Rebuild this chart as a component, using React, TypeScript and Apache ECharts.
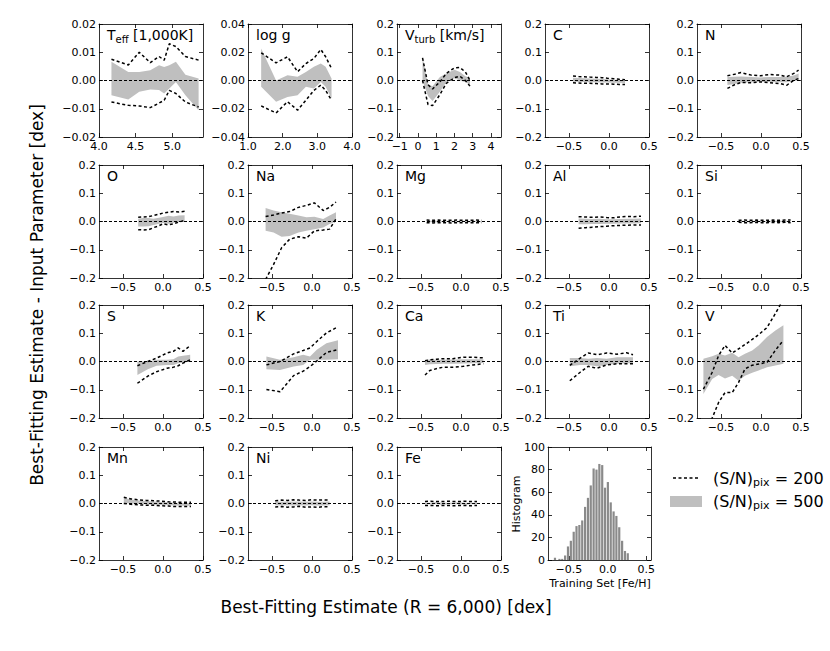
import React, { useEffect, useRef } from 'react';
import * as echarts from 'echarts';

const FONT = 'DejaVu Sans';

// ---------------- tick values ----------------
const teffXTicks = [4.0, 4.5, 5.0];
const loggXTicks = [1, 2, 3, 4];
const vturbXTicks = [-1, 0, 1, 2, 3, 4];
const abundXTicks = [-0.5, 0, 0.5];
const teffYTicks = [-0.02, -0.01, 0, 0.01, 0.02];
const loggYTicks = [-0.04, -0.02, 0, 0.02, 0.04];
const abundYTicks = [-0.2, -0.1, 0, 0.1, 0.2];
const histXTicks = [-0.5, 0, 0.5];
const histYTicks = [0, 20, 40, 60, 80, 100];

// ---------------- panel data ----------------
// hi200/lo200: dashed envelope (S/N=200); hi500/lo500: grey band (S/N=500)
const teffX = [4.17, 4.40, 4.55, 4.70, 4.82, 4.89, 4.96, 5.05, 5.18, 5.36];
const teffHi200 = [0.0075, 0.0055, 0.0100, 0.0063, 0.0085, 0.0072, 0.0130, 0.0120, 0.0085, 0.0072];
const teffLo200 = [-0.0076, -0.0088, -0.0090, -0.0096, -0.0080, -0.0070, -0.0035, -0.0046, -0.0076, -0.0094];
const teffHi500 = [0.0066, 0.0030, 0.0030, 0.0036, 0.0054, 0.0048, 0.0054, 0.0066, 0.0020, 0.0007];
const teffLo500 = [-0.0052, -0.0067, -0.0040, -0.0032, -0.0034, -0.0046, -0.0028, -0.0005, -0.0052, -0.0105];

const loggX = [1.38, 1.81, 2.14, 2.43, 2.67, 2.90, 3.10, 3.24, 3.41];
const loggHi200 = [0.0196, 0.0125, 0.0168, 0.0062, 0.0120, 0.0156, 0.0220, 0.0168, 0.0085];
const loggLo200 = [-0.0180, -0.0230, -0.0150, -0.0210, -0.0140, -0.0070, -0.0033, -0.0070, -0.0140];
const loggHi500 = [0.0227, 0.0000, 0.0038, 0.0026, 0.0060, 0.0097, 0.0120, 0.0097, 0.0014];
const loggLo500 = [-0.0045, -0.0150, -0.0116, -0.0104, -0.0045, -0.0057, -0.0010, -0.0045, -0.0128];

const vtX = [0.25, 0.55, 0.8, 1.2, 1.55, 2.0, 2.3, 2.6, 2.85];
const vtHi200 = [0.080, -0.015, -0.030, -0.005, 0.025, 0.045, 0.046, 0.030, 0.000];
const vtLo200 = [0.000, -0.085, -0.089, -0.050, -0.010, 0.010, 0.015, 0.000, -0.020];
const vtHi500 = [0.085, -0.014, -0.020, 0.012, 0.025, 0.038, 0.030, 0.015, 0.010];
const vtLo500 = [0.000, -0.055, -0.073, -0.040, -0.005, 0.008, 0.000, -0.006, -0.014];

const cX = [-0.45, -0.38, -0.31, -0.24, -0.16, -0.09, -0.02, 0.06, 0.13, 0.20];
const cHi200 = [0.016, 0.014, 0.013, 0.012, 0.011, 0.010, 0.008, 0.006, 0.004, 0.003];
const cLo200 = [-0.008, -0.009, -0.010, -0.010, -0.011, -0.012, -0.012, -0.013, -0.014, -0.014];
const cHi500 = [0.010, 0.009, 0.008, 0.007, 0.006, 0.005, 0.004, 0.003, 0.002, 0.001];
const cLo500 = [-0.004, -0.005, -0.005, -0.006, -0.006, -0.007, -0.007, -0.008, -0.008, -0.009];

const nX = [-0.42, -0.33, -0.25, -0.12, -0.01, 0.11, 0.24, 0.32, 0.41, 0.47];
const nHi200 = [0.017, 0.022, 0.028, 0.019, 0.017, 0.021, 0.019, 0.013, 0.025, 0.037];
const nLo200 = [-0.028, -0.015, -0.007, -0.008, -0.005, -0.008, -0.011, -0.017, 0.001, 0.007];
const nHi500 = [0.012, 0.013, 0.014, 0.012, 0.011, 0.012, 0.012, 0.013, 0.018, 0.025];
const nLo500 = [-0.016, -0.012, -0.008, -0.006, -0.005, -0.005, -0.006, -0.006, -0.002, 0.001];

const oX = [-0.31, -0.25, -0.18, -0.12, -0.05, 0.0, 0.07, 0.13, 0.20, 0.27];
const oHi200 = [0.015, 0.016, 0.017, 0.021, 0.026, 0.030, 0.033, 0.035, 0.034, 0.036];
const oLo200 = [-0.029, -0.030, -0.029, -0.022, -0.015, -0.008, -0.012, -0.008, -0.002, 0.004];
const oHi500 = [0.010, 0.012, 0.012, 0.010, 0.013, 0.016, 0.020, 0.018, 0.021, 0.022];
const oLo500 = [-0.018, -0.018, -0.017, -0.012, -0.008, -0.005, -0.008, -0.004, -0.002, 0.000];

const naX = [-0.58, -0.48, -0.38, -0.28, -0.17, -0.07, 0.03, 0.14, 0.22, 0.30];
const naHi200 = [0.018, 0.023, 0.030, 0.035, 0.050, 0.057, 0.066, 0.039, 0.050, 0.069];
const naLo200 = [-0.205, -0.152, -0.093, -0.063, -0.054, -0.059, -0.033, -0.030, -0.027, 0.009];
const naHi500 = [0.048, 0.039, 0.033, 0.027, 0.021, 0.015, 0.017, 0.009, 0.021, 0.033];
const naLo500 = [-0.033, -0.039, -0.054, -0.051, -0.039, -0.033, -0.027, -0.021, -0.009, 0.000];

const mgX = [-0.43, -0.35, -0.28, -0.20, -0.12, -0.05, 0.03, 0.11, 0.18, 0.26];
const mgHi200 = [0.005, 0.004, 0.005, 0.004, 0.004, 0.005, 0.004, 0.004, 0.005, 0.004];
const mgLo200 = [-0.004, -0.005, -0.004, -0.004, -0.005, -0.004, -0.004, -0.005, -0.004, -0.004];
const mgHi500 = [0.003, 0.003, 0.002, 0.003, 0.003, 0.002, 0.003, 0.002, 0.003, 0.002];
const mgLo500 = [-0.002, -0.003, -0.003, -0.002, -0.003, -0.003, -0.002, -0.003, -0.002, -0.003];

const alX = [-0.38, -0.29, -0.21, -0.12, -0.03, 0.05, 0.14, 0.23, 0.31, 0.40];
const alHi200 = [0.017, 0.016, 0.015, 0.016, 0.014, 0.013, 0.016, 0.018, 0.017, 0.019];
const alLo200 = [-0.024, -0.022, -0.020, -0.018, -0.017, -0.015, -0.014, -0.013, -0.012, -0.012];
const alHi500 = [0.011, 0.010, 0.009, 0.010, 0.008, 0.008, 0.009, 0.010, 0.010, 0.011];
const alLo500 = [-0.010, -0.010, -0.009, -0.009, -0.008, -0.008, -0.007, -0.007, -0.007, -0.006];

const siX = [-0.28, -0.21, -0.14, -0.06, 0.01, 0.08, 0.15, 0.22, 0.30, 0.37];
const siHi200 = [0.004, 0.005, 0.004, 0.005, 0.004, 0.004, 0.005, 0.004, 0.005, 0.005];
const siLo200 = [-0.003, -0.004, -0.004, -0.003, -0.004, -0.004, -0.003, -0.004, -0.003, -0.004];
const siHi500 = [0.002, 0.003, 0.002, 0.003, 0.002, 0.002, 0.003, 0.002, 0.003, 0.003];
const siLo500 = [-0.002, -0.002, -0.003, -0.002, -0.002, -0.003, -0.002, -0.002, -0.002, -0.003];

const sX = [-0.32, -0.19, -0.08, 0.05, 0.13, 0.19, 0.25, 0.34];
const sHi200 = [-0.015, 0.000, 0.012, 0.030, 0.036, 0.048, 0.036, 0.056];
const sLo200 = [-0.077, -0.052, -0.036, -0.024, -0.020, -0.015, -0.006, 0.006];
const sHi500 = [0.000, 0.000, 0.006, 0.006, 0.008, 0.018, 0.020, 0.024];
const sLo500 = [-0.048, -0.027, -0.015, -0.012, -0.012, -0.006, -0.004, 0.000];

const kX = [-0.57, -0.40, -0.23, -0.11, -0.025, 0.06, 0.18, 0.325];
const kHi200 = [-0.012, 0.000, 0.027, 0.039, 0.048, 0.071, 0.101, 0.123];
const kLo200 = [-0.099, -0.107, -0.050, -0.034, -0.018, 0.002, 0.032, 0.042];
const kHi500 = [0.018, 0.006, 0.015, 0.024, 0.018, 0.042, 0.065, 0.075];
const kLo500 = [-0.027, -0.030, -0.018, -0.012, 0.006, 0.006, 0.006, 0.008];

const caX = [-0.45, -0.39, -0.30, -0.22, -0.10, 0.03, 0.15, 0.28];
const caHi200 = [0.003, 0.006, 0.008, 0.010, 0.010, 0.015, 0.015, 0.013];
const caLo200 = [-0.048, -0.032, -0.025, -0.020, -0.020, -0.017, -0.012, -0.008];
const caHi500 = [0.005, 0.007, 0.006, 0.006, 0.007, 0.008, 0.008, 0.008];
const caLo500 = [-0.012, -0.010, -0.009, -0.008, -0.008, -0.007, -0.006, -0.005];

const tiX = [-0.49, -0.36, -0.26, -0.15, -0.03, 0.10, 0.22, 0.30];
const tiHi200 = [-0.014, 0.012, 0.030, 0.024, 0.030, 0.026, 0.031, 0.024];
const tiLo200 = [-0.068, -0.038, -0.017, -0.024, -0.012, -0.008, -0.008, -0.008];
const tiHi500 = [0.012, 0.012, 0.010, 0.012, 0.010, 0.015, 0.015, 0.015];
const tiLo500 = [-0.017, -0.012, -0.012, -0.017, -0.012, -0.008, -0.006, -0.005];

const vX = [-0.72, -0.61, -0.53, -0.45, -0.36, -0.28, -0.20, -0.11, -0.03, 0.075, 0.18, 0.28];
const vHi200 = [-0.098, -0.038, 0.021, 0.057, 0.030, 0.045, 0.060, 0.078, 0.095, 0.120, 0.170, 0.220];
const vLo200 = [-0.300, -0.200, -0.145, -0.110, -0.110, -0.074, -0.026, -0.013, -0.009, -0.003, 0.040, 0.075];
const vHi500 = [0.010, 0.019, 0.027, 0.021, 0.031, 0.015, 0.027, 0.039, 0.057, 0.087, 0.110, 0.128];
const vLo500 = [-0.115, -0.062, -0.048, -0.060, -0.050, -0.068, -0.050, -0.040, -0.032, -0.020, -0.014, -0.008];

const mnX = [-0.49, -0.40, -0.30, -0.21, -0.12, -0.02, 0.07, 0.16, 0.26, 0.35];
const mnHi200 = [0.022, 0.016, 0.013, 0.011, 0.010, 0.008, 0.006, 0.005, 0.004, 0.004];
const mnLo200 = [0.000, -0.003, -0.005, -0.006, -0.006, -0.008, -0.009, -0.011, -0.011, -0.011];
const mnHi500 = [0.020, 0.014, 0.011, 0.009, 0.007, 0.005, 0.004, 0.003, 0.002, 0.002];
const mnLo500 = [0.002, 0.000, -0.002, -0.003, -0.004, -0.005, -0.006, -0.007, -0.008, -0.008];

const niX = [-0.46, -0.38, -0.31, -0.23, -0.16, -0.08, -0.01, 0.07, 0.14, 0.22];
const niHi200 = [0.010, 0.012, 0.011, 0.013, 0.012, 0.011, 0.013, 0.012, 0.013, 0.012];
const niLo200 = [-0.012, -0.011, -0.013, -0.012, -0.010, -0.013, -0.012, -0.014, -0.011, -0.012];
const niHi500 = [0.007, 0.006, 0.007, 0.006, 0.007, 0.006, 0.007, 0.006, 0.006, 0.007];
const niLo500 = [-0.006, -0.007, -0.006, -0.007, -0.006, -0.007, -0.006, -0.007, -0.007, -0.006];

const feX = [-0.45, -0.38, -0.31, -0.23, -0.16, -0.09, -0.02, 0.06, 0.13, 0.20];
const feHi200 = [0.007, 0.008, 0.007, 0.007, 0.008, 0.007, 0.007, 0.008, 0.007, 0.007];
const feLo200 = [-0.007, -0.007, -0.008, -0.007, -0.007, -0.008, -0.007, -0.007, -0.008, -0.007];
const feHi500 = [0.003, 0.003, 0.004, 0.003, 0.003, 0.003, 0.004, 0.003, 0.003, 0.003];
const feLo500 = [-0.003, -0.003, -0.003, -0.004, -0.003, -0.003, -0.003, -0.004, -0.003, -0.003];

// histogram of training set [Fe/H]
const histX = [-0.680, -0.622, -0.586, -0.549, -0.512, -0.475, -0.438, -0.402, -0.365, -0.328, -0.291, -0.254, -0.218,
  -0.181, -0.144, -0.107, -0.070, -0.034, 0.003, 0.040, 0.077, 0.113, 0.150, 0.187, 0.224, 0.260];
const histY = [2, 1, 1, 4, 12, 17, 25, 30, 31, 35, 47, 55, 66, 81, 80, 85, 84, 64, 69, 51, 43, 39, 29, 17, 8, 6];

// ---------------- layout ----------------
const COL_LEFT = [99, 248, 397, 545, 697];
const ROW_TOP = [24, 165, 305, 447];
const PW = 104;
const PH = 113;

const ABX: [number, number] = [-0.8, 0.5];
const ABY: [number, number] = [-0.2, 0.2];

const panels = [
  { label: '{n|T}{s|eff}{n| [1,000K]}', x: teffX, hi200: teffHi200, lo200: teffLo200, hi500: teffHi500, lo500: teffLo500, xr: [4.0, 5.42], xt: teffXTicks, xd: 1, yr: [-0.02, 0.02], yt: teffYTicks, yd: 2 },
  { label: '{n|log g}', x: loggX, hi200: loggHi200, lo200: loggLo200, hi500: loggHi500, lo500: loggLo500, xr: [1.0, 4.0], xt: loggXTicks, xd: 1, yr: [-0.04, 0.04], yt: loggYTicks, yd: 2 },
  { label: '{n|V}{s|turb}{n| [km/s]}', x: vtX, hi200: vtHi200, lo200: vtLo200, hi500: vtHi500, lo500: vtLo500, xr: [-1.15, 4.55], xt: vturbXTicks, xd: 0, yr: ABY, yt: abundYTicks, yd: 1 },
  { label: '{n|C}', x: cX, hi200: cHi200, lo200: cLo200, hi500: cHi500, lo500: cLo500 },
  { label: '{n|N}', x: nX, hi200: nHi200, lo200: nLo200, hi500: nHi500, lo500: nLo500 },
  { label: '{n|O}', x: oX, hi200: oHi200, lo200: oLo200, hi500: oHi500, lo500: oLo500 },
  { label: '{n|Na}', x: naX, hi200: naHi200, lo200: naLo200, hi500: naHi500, lo500: naLo500 },
  { label: '{n|Mg}', x: mgX, hi200: mgHi200, lo200: mgLo200, hi500: mgHi500, lo500: mgLo500 },
  { label: '{n|Al}', x: alX, hi200: alHi200, lo200: alLo200, hi500: alHi500, lo500: alLo500 },
  { label: '{n|Si}', x: siX, hi200: siHi200, lo200: siLo200, hi500: siHi500, lo500: siLo500 },
  { label: '{n|S}', x: sX, hi200: sHi200, lo200: sLo200, hi500: sHi500, lo500: sLo500 },
  { label: '{n|K}', x: kX, hi200: kHi200, lo200: kLo200, hi500: kHi500, lo500: kLo500 },
  { label: '{n|Ca}', x: caX, hi200: caHi200, lo200: caLo200, hi500: caHi500, lo500: caLo500 },
  { label: '{n|Ti}', x: tiX, hi200: tiHi200, lo200: tiLo200, hi500: tiHi500, lo500: tiLo500 },
  { label: '{n|V}', x: vX, hi200: vHi200, lo200: vLo200, hi500: vHi500, lo500: vLo500 },
  { label: '{n|Mn}', x: mnX, hi200: mnHi200, lo200: mnLo200, hi500: mnHi500, lo500: mnLo500 },
  { label: '{n|Ni}', x: niX, hi200: niHi200, lo200: niLo200, hi500: niHi500, lo500: niLo500 },
  { label: '{n|Fe}', x: feX, hi200: feHi200, lo200: feLo200, hi500: feHi500, lo500: feLo500 },
];

const fmt = (v: number, d: number) => {
  const s = (Math.abs(v) < 1e-9 ? 0 : v).toFixed(d);
  return s.replace('-', '\u2212');
};

const labelRich = {
  n: { fontSize: 14, lineHeight: 18, fontFamily: FONT, fill: '#000' },
  s: { fontSize: 10, lineHeight: 10, verticalAlign: 'bottom', fontFamily: FONT, fill: '#000' },
};

function buildOption() {
  const grids: any[] = [];
  const xAxes: any[] = [];
  const yAxes: any[] = [];
  const series: any[] = [];
  const graphics: any[] = [];

  const makeAxis = (gi: number, pos: string, showLabel: boolean, ticks: number[], dec: number, range: number[], isX: boolean) => ({
    type: 'value',
    gridIndex: gi,
    position: pos,
    min: range[0],
    max: range[1],
    axisLine: { show: true, onZero: false, lineStyle: { color: '#000', width: 0.8 } },
    axisTick: { show: true, inside: true, length: 4, customValues: ticks, lineStyle: { color: '#000', width: 0.8 } },
    axisLabel: {
      show: showLabel,
      customValues: ticks,
      formatter: (v: number) => fmt(v, dec),
      fontSize: 11,
      fontFamily: FONT,
      color: '#000',
      margin: isX ? 4 : 3,
      showMinLabel: true,
      showMaxLabel: true,
    },
    splitLine: { show: false },
    splitArea: { show: false },
  });

  const addGrid = (left: number, top: number, w: number, h: number,
    xr: number[], xt: number[], xd: number, yr: number[], yt: number[], yd: number) => {
    const gi = grids.length;
    grids.push({ left, top, width: w, height: h, show: false });
    xAxes.push(makeAxis(gi, 'bottom', true, xt, xd, xr, true));
    xAxes.push(makeAxis(gi, 'top', false, xt, xd, xr, true));
    yAxes.push(makeAxis(gi, 'left', true, yt, yd, yr, false));
    yAxes.push(makeAxis(gi, 'right', false, yt, yd, yr, false));
    return 2 * gi;
  };

  panels.forEach((p: any, i) => {
    const row = Math.floor(i / 5);
    const col = i % 5;
    const left = COL_LEFT[col];
    const top = ROW_TOP[row];
    const ai = addGrid(left, top, PW, PH,
      p.xr || ABX, p.xt || abundXTicks, p.xd ?? 1,
      p.yr || ABY, p.yt || abundYTicks, p.yd ?? 1);
    const xs: number[] = p.x;
    const hi5: number[] = p.hi500;
    const lo5: number[] = p.lo500;
    series.push({
      type: 'custom',
      name: '(S/N)pix = 500',
      xAxisIndex: ai,
      yAxisIndex: ai,
      clip: true,
      silent: true,
      z: 2,
      data: [[xs[0], lo5[0]]],
      encode: { x: 0, y: 1 },
      renderItem: (_params: any, api: any) => {
        const pts: number[][] = [];
        for (let k = 0; k < xs.length; k++) pts.push(api.coord([xs[k], hi5[k]]));
        for (let k = xs.length - 1; k >= 0; k--) pts.push(api.coord([xs[k], lo5[k]]));
        return { type: 'polygon', shape: { points: pts }, style: { fill: '#bfbfbf', stroke: 'none' } };
      },
    });
    const dashed = { color: '#000', width: 1.5, type: [3, 2.5] };
    series.push({
      type: 'line',
      name: '(S/N)pix = 200',
      xAxisIndex: ai,
      yAxisIndex: ai,
      data: xs.map((v, k) => [v, p.hi200[k]]),
      showSymbol: false,
      symbol: 'none',
      clip: true,
      silent: true,
      z: 3,
      lineStyle: dashed,
    });
    series.push({
      type: 'line',
      name: '(S/N)pix = 200',
      xAxisIndex: ai,
      yAxisIndex: ai,
      data: xs.map((v, k) => [v, p.lo200[k]]),
      showSymbol: false,
      symbol: 'none',
      clip: true,
      silent: true,
      z: 3,
      lineStyle: dashed,
      markLine: {
        silent: true,
        symbol: ['none', 'none'],
        label: { show: false },
        lineStyle: { color: '#000', width: 1, type: [3, 2] },
        data: [{ yAxis: 0 }],
      },
    });
    graphics.push({
      type: 'text',
      x: left + 8,
      y: top + 2,
      style: { text: p.label, rich: labelRich, align: 'left', verticalAlign: 'top', fill: '#000' },
    });
  });

  // histogram panel
  const hi = addGrid(548, 447, 103, 113, [-0.77, 0.56], histXTicks, 1, [0, 100], histYTicks, 0);
  series.push({
    type: 'bar',
    xAxisIndex: hi,
    yAxisIndex: hi,
    data: histX.map((v, k) => [v, histY[k]]),
    barWidth: 2.2,
    silent: true,
    itemStyle: { color: '#8a8a8a' },
  });

  graphics.push(
    {
      type: 'text', x: 516, y: 504, rotation: Math.PI / 2,
      style: { text: 'Histogram', fontSize: 11, fontFamily: FONT, fill: '#000', align: 'center', verticalAlign: 'middle' },
    },
    {
      type: 'text', x: 600, y: 583,
      style: { text: 'Training Set [Fe/H]', fontSize: 11, fontFamily: FONT, fill: '#000', align: 'center', verticalAlign: 'middle' },
    },
    {
      type: 'text', x: 37, y: 295, rotation: Math.PI / 2,
      style: { text: 'Best-Fitting Estimate - Input Parameter [dex]', fontSize: 17, fontFamily: FONT, fill: '#000', align: 'center', verticalAlign: 'middle' },
    },
    {
      type: 'text', x: 386, y: 607,
      style: { text: 'Best-Fitting Estimate (R = 6,000) [dex]', fontSize: 17, fontFamily: FONT, fill: '#000', align: 'center', verticalAlign: 'middle' },
    },
    // legend
    {
      type: 'line', shape: { x1: 673, y1: 478, x2: 698, y2: 478 },
      style: { stroke: '#000', lineWidth: 1.5, lineDash: [3, 2.5] },
    },
    {
      type: 'rect', shape: { x: 670, y: 496, width: 32, height: 11 },
      style: { fill: '#bfbfbf' },
    },
    {
      type: 'text', x: 713, y: 478,
      style: {
        text: '{a|(S/N)}{s|pix}{a| = 200}', align: 'left', verticalAlign: 'middle', fill: '#000',
        rich: {
          a: { fontSize: 16, lineHeight: 20, fontFamily: FONT, fill: '#000' },
          s: { fontSize: 11, lineHeight: 11, verticalAlign: 'bottom', fontFamily: FONT, fill: '#000' },
        },
      },
    },
    {
      type: 'text', x: 713, y: 501,
      style: {
        text: '{a|(S/N)}{s|pix}{a| = 500}', align: 'left', verticalAlign: 'middle', fill: '#000',
        rich: {
          a: { fontSize: 16, lineHeight: 20, fontFamily: FONT, fill: '#000' },
          s: { fontSize: 11, lineHeight: 11, verticalAlign: 'bottom', fontFamily: FONT, fill: '#000' },
        },
      },
    },
  );

  return {
    animation: false,
    backgroundColor: '#fff',
    textStyle: { fontFamily: FONT },
    grid: grids,
    xAxis: xAxes,
    yAxis: yAxes,
    series,
    graphic: graphics,
  };
}

export default function App() {
  const ref = useRef<HTMLDivElement>(null);
  useEffect(() => {
    document.body.style.margin = '0';
    const chart = echarts.init(ref.current!, null, { renderer: 'svg' });
    chart.setOption(buildOption() as any);
    return () => chart.dispose();
  }, []);
  return <div ref={ref} style={{ width: 830, height: 651 }} />;
}
